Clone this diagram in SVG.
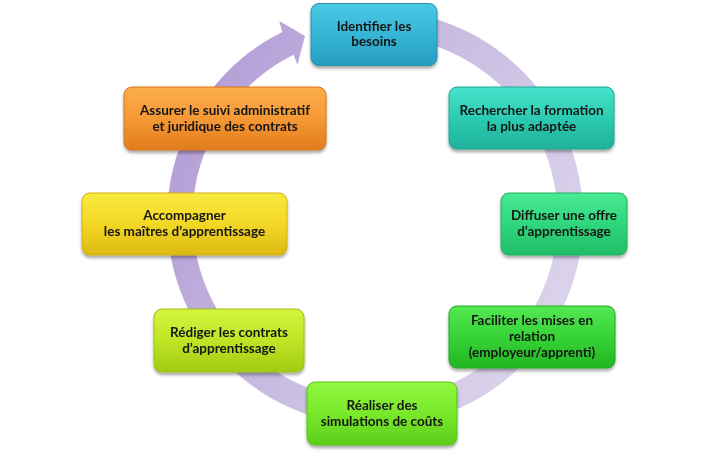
<svg xmlns="http://www.w3.org/2000/svg" width="710" height="452" viewBox="0 0 710 452">
<style>
.box{stroke-width:1}
.t{font-family:Lato,"Liberation Sans",Arial,sans-serif;font-weight:700;font-size:13.5px;fill:#161616;text-anchor:middle}
</style>
<defs>
<filter id="sh" x="-10%" y="-10%" width="120%" height="130%">
<feDropShadow dx="0" dy="2.5" stdDeviation="1.8" flood-color="#000" flood-opacity="0.35"/>
</filter>
<linearGradient id="ring" gradientUnits="userSpaceOnUse" x1="600" y1="300" x2="190" y2="90">
<stop offset="0" stop-color="#ddd6ec"/>
<stop offset="0.5" stop-color="#cbbfe2"/>
<stop offset="1" stop-color="#b39dd6"/>
</linearGradient>
<linearGradient id="g1" x1="0" y1="0" x2="0" y2="1"><stop offset="0" stop-color="#4cc9e4"/><stop offset="0.5" stop-color="#35b5d5"/><stop offset="1" stop-color="#279dbe"/></linearGradient>
<linearGradient id="g2" x1="0" y1="0" x2="0" y2="1"><stop offset="0" stop-color="#46e4cc"/><stop offset="0.5" stop-color="#2ccbb2"/><stop offset="1" stop-color="#20b19a"/></linearGradient>
<linearGradient id="g3" x1="0" y1="0" x2="0" y2="1"><stop offset="0" stop-color="#48ea94"/><stop offset="0.5" stop-color="#2fd67c"/><stop offset="1" stop-color="#21bd66"/></linearGradient>
<linearGradient id="g4" x1="0" y1="0" x2="0" y2="1"><stop offset="0" stop-color="#55e853"/><stop offset="0.5" stop-color="#36d336"/><stop offset="1" stop-color="#23b623"/></linearGradient>
<linearGradient id="g5" x1="0" y1="0" x2="0" y2="1"><stop offset="0" stop-color="#92f640"/><stop offset="0.5" stop-color="#78e92b"/><stop offset="1" stop-color="#5ecd1c"/></linearGradient>
<linearGradient id="g6" x1="0" y1="0" x2="0" y2="1"><stop offset="0" stop-color="#d5f440"/><stop offset="0.5" stop-color="#bfe526"/><stop offset="1" stop-color="#a3ca14"/></linearGradient>
<linearGradient id="g7" x1="0" y1="0" x2="0" y2="1"><stop offset="0" stop-color="#fbea40"/><stop offset="0.5" stop-color="#f3d726"/><stop offset="1" stop-color="#dcb912"/></linearGradient>
<linearGradient id="g8" x1="0" y1="0" x2="0" y2="1"><stop offset="0" stop-color="#fdae4c"/><stop offset="0.5" stop-color="#f69835"/><stop offset="1" stop-color="#e07d1c"/></linearGradient>
</defs>
<rect width="710" height="452" fill="#ffffff"/>
<g id="connectors">
<path d="M418.2,14.5 A208,208 0 1 1 282.2,31.9 L279.3,21 L305,36 L297.4,65 L293.6,54.7 A182.5,182.5 0 1 0 412.9,39.5 Z" fill="url(#ring)"/>
</g>
<g id="n1" filter="url(#sh)">
<rect class="box" x="311" y="3.5" width="126" height="62" rx="8" fill="url(#g1)" stroke="#2592b2"/>
<text class="t" x="374" y="30.5">Identifier les</text>
<text class="t" x="374" y="46">besoins</text>
</g>
<g id="n2" filter="url(#sh)">
<rect class="box" x="449" y="87" width="165" height="62" rx="8" fill="url(#g2)" stroke="#1fa790"/>
<text class="t" x="531.5" y="115">Rechercher la formation</text>
<text class="t" x="531.5" y="130.5">la plus adaptée</text>
</g>
<g id="n3" filter="url(#sh)">
<rect class="box" x="501" y="193" width="126" height="62" rx="8" fill="url(#g3)" stroke="#1fb160"/>
<text class="t" x="564" y="220">Diffuser une offre</text>
<text class="t" x="564" y="236">d’apprentissage</text>
</g>
<g id="n4" filter="url(#sh)">
<rect class="box" x="449" y="306" width="166" height="62" rx="8" fill="url(#g4)" stroke="#20a920"/>
<text class="t" x="532" y="325">Faciliter les mises en</text>
<text class="t" x="532" y="341">relation</text>
<text class="t" x="532" y="357">(employeur/apprenti)</text>
</g>
<g id="n5" filter="url(#sh)">
<rect class="box" x="307" y="382" width="150" height="63" rx="8" fill="url(#g5)" stroke="#58c21a"/>
<text class="t" x="382" y="410">Réaliser des</text>
<text class="t" x="382" y="425.5">simulations de coûts</text>
</g>
<g id="n6" filter="url(#sh)">
<rect class="box" x="154" y="309" width="150" height="63" rx="8" fill="url(#g6)" stroke="#9cc012"/>
<text class="t" x="229" y="337">Rédiger les contrats</text>
<text class="t" x="229" y="353">d’apprentissage</text>
</g>
<g id="n7" filter="url(#sh)">
<rect class="box" x="82" y="193" width="205" height="62" rx="8" fill="url(#g7)" stroke="#d2b010"/>
<text class="t" x="184.5" y="220">Accompagner</text>
<text class="t" x="184.5" y="236">les maîtres d’apprentissage</text>
</g>
<g id="n8" filter="url(#sh)">
<rect class="box" x="124" y="87" width="202" height="63" rx="8" fill="url(#g8)" stroke="#d8761a"/>
<text class="t" x="225" y="114.5">Assurer le suivi administratif</text>
<text class="t" x="225" y="130.5">et juridique des contrats</text>
</g>
</svg>
